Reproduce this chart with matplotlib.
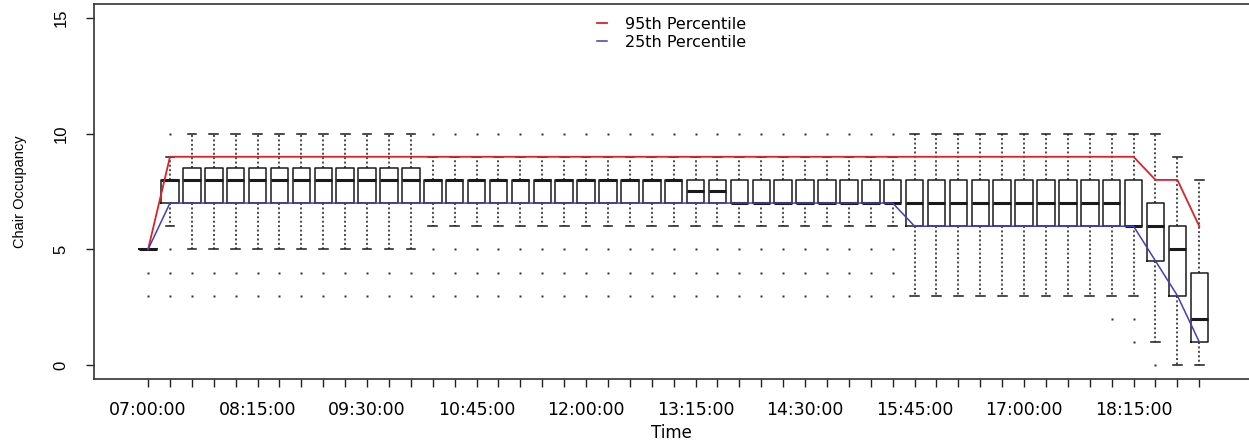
import matplotlib
matplotlib.use("Agg")
import matplotlib.pyplot as plt
from matplotlib.lines import Line2D

# Time slots (15-minute intervals from 07:00:00 to 19:00:00)
times = ["07:00:00", "07:15:00", "07:30:00", "07:45:00", "08:00:00", "08:15:00", "08:30:00",
         "08:45:00", "09:00:00", "09:15:00", "09:30:00", "09:45:00", "10:00:00", "10:15:00",
         "10:30:00", "10:45:00", "11:00:00", "11:15:00", "11:30:00", "11:45:00", "12:00:00",
         "12:15:00", "12:30:00", "12:45:00", "13:00:00", "13:15:00", "13:30:00", "13:45:00",
         "14:00:00", "14:15:00", "14:30:00", "14:45:00", "15:00:00", "15:15:00", "15:30:00",
         "15:45:00", "16:00:00", "16:15:00", "16:30:00", "16:45:00", "17:00:00", "17:15:00",
         "17:30:00", "17:45:00", "18:00:00", "18:15:00", "18:30:00", "18:45:00", "19:00:00"]

# Box-plot summary statistics of chair occupancy per slot
whisker_low = [5, 6, 5, 5, 5, 5, 5, 5, 5, 5, 5, 5, 5, 6, 6, 6, 6, 6, 6, 6, 6, 6, 6, 6, 6,
               6, 6, 6, 6, 6, 6, 6, 6, 6, 6, 3, 3, 3, 3, 3, 3, 3, 3, 3, 3, 3, 1, 0, 0]
quart_low = [5, 7, 7, 7, 7, 7, 7, 7, 7, 7, 7, 7, 7, 7, 7, 7, 7, 7, 7, 7, 7, 7, 7, 7, 7,
             7, 7, 7, 7, 7, 7, 7, 7, 7, 7, 6, 6, 6, 6, 6, 6, 6, 6, 6, 6, 6, 4.5, 3, 1]
median = [5, 8, 8, 8, 8, 8, 8, 8, 8, 8, 8, 8, 8, 8, 8, 8, 8, 8, 8, 8, 8, 8, 8, 8, 8,
          7.5, 7.5, 7, 7, 7, 7, 7, 7, 7, 7, 7, 7, 7, 7, 7, 7, 7, 7, 7, 7, 6, 6, 5, 2]
quart_high = [5, 8, 8.5, 8.5, 8.5, 8.5, 8.5, 8.5, 8.5, 8.5, 8.5, 8.5, 8.5, 8, 8, 8, 8, 8, 8,
              8, 8, 8, 8, 8, 8, 8, 8, 8, 8, 8, 8, 8, 8, 8, 8, 8, 8, 8, 8, 8, 8, 8, 8, 8, 8,
              8, 7, 6, 4]
whisker_high = [5, 9, 10, 10, 10, 10, 10, 10, 10, 10, 10, 10, 10, 9, 9, 9, 9, 9, 9, 9, 9, 9,
                9, 9, 9, 9, 9, 9, 9, 9, 9, 9, 9, 9, 9, 10, 10, 10, 10, 10, 10, 10, 10, 10, 10,
                10, 10, 9, 8]
outliers = [[4, 3], [10, 5, 4, 3]] + [[4, 3]] * 11 + [[10, 5, 4, 3]] * 22 + [[]] * 9 + \
           [[2], [2, 1], [0], [], []]

# Percentile curves
p95 = [5, 9, 9, 9, 9, 9, 9, 9, 9, 9, 9, 9, 9, 9, 9, 9, 9, 9, 9, 9, 9, 9, 9, 9, 9,
       9, 9, 9, 9, 9, 9, 9, 9, 9, 9, 9, 9, 9, 9, 9, 9, 9, 9, 9, 9, 9, 8, 8, 6]
p25 = [5, 7, 7, 7, 7, 7, 7, 7, 7, 7, 7, 7, 7, 7, 7, 7, 7, 7, 7, 7, 7, 7, 7, 7, 7,
       7, 7, 7, 7, 7, 7, 7, 7, 7, 7, 6, 6, 6, 6, 6, 6, 6, 6, 6, 6, 6, 4.5, 3, 1]

label_every = 5

plt.rcParams["font.family"] = ["DejaVu Sans"]

fig = plt.figure(figsize=(12.49, 4.44), dpi=100)
ax = fig.add_axes([94 / 1249, 65 / 444, 1 - 94 / 1249, 375 / 444])

positions = list(range(len(times)))
stats = []
for i in positions:
    stats.append(dict(whislo=whisker_low[i], q1=quart_low[i], med=median[i],
                      q3=quart_high[i], whishi=whisker_high[i], fliers=outliers[i]))

ax.bxp(stats, positions=positions, widths=0.8, capwidths=0.4, showfliers=True,
       boxprops=dict(color="#1a1a1a", linewidth=1.1),
       medianprops=dict(color="#1a1a1a", linewidth=2.2, solid_capstyle="butt"),
       whiskerprops=dict(color="#1a1a1a", linewidth=1.1, linestyle=(0, (1.3, 1.6))),
       capprops=dict(color="#1a1a1a", linewidth=1.1),
       flierprops=dict(marker="s", markersize=1.6, markerfacecolor="#333333",
                       markeredgecolor="none", linestyle="none"))

ax.plot(positions, p95, color="#d8232a", linewidth=1.3, zorder=5)
ax.plot(positions, p25, color="#4040b8", linewidth=1.1, zorder=5)

handles = [Line2D([], [], color="#d8232a", linewidth=1.3),
           Line2D([], [], color="#4040b8", linewidth=1.1)]
ax.legend(handles, ["95th Percentile", "25th Percentile"], loc="upper center",
          bbox_to_anchor=(0.5, 1.0), frameon=False, handlelength=0.6,
          handletextpad=1.1, labelspacing=0.2, fontsize=11.5, borderaxespad=0.4)

ax.set_xlim(-2.47, 50.27)
ax.set_ylim(-0.6, 15.6)
ax.set_xticks(positions)
ax.set_xticklabels([t if i % label_every == 0 else "" for i, t in enumerate(times)],
                   fontsize=12.5)
ax.set_yticks([0, 5, 10, 15])
ax.set_yticklabels(["0", "5", "10", "15"], rotation=90, va="center",
                   fontsize=12, family="Liberation Sans")
ax.tick_params(axis="both", direction="out", length=5.5, width=1.0, color="#222222")
ax.tick_params(axis="x", pad=10)
ax.tick_params(axis="y", pad=13)

ax.spines["right"].set_visible(False)
for s in ("left", "bottom", "top"):
    ax.spines[s].set_linewidth(1.2)
    ax.spines[s].set_color("#333333")

ax.set_xlabel("Time", fontsize=12, labelpad=4)
ax.set_ylabel("Chair Occupancy", fontsize=10.5, family="Liberation Sans", labelpad=19)

fig.savefig("out.png", dpi=100)
